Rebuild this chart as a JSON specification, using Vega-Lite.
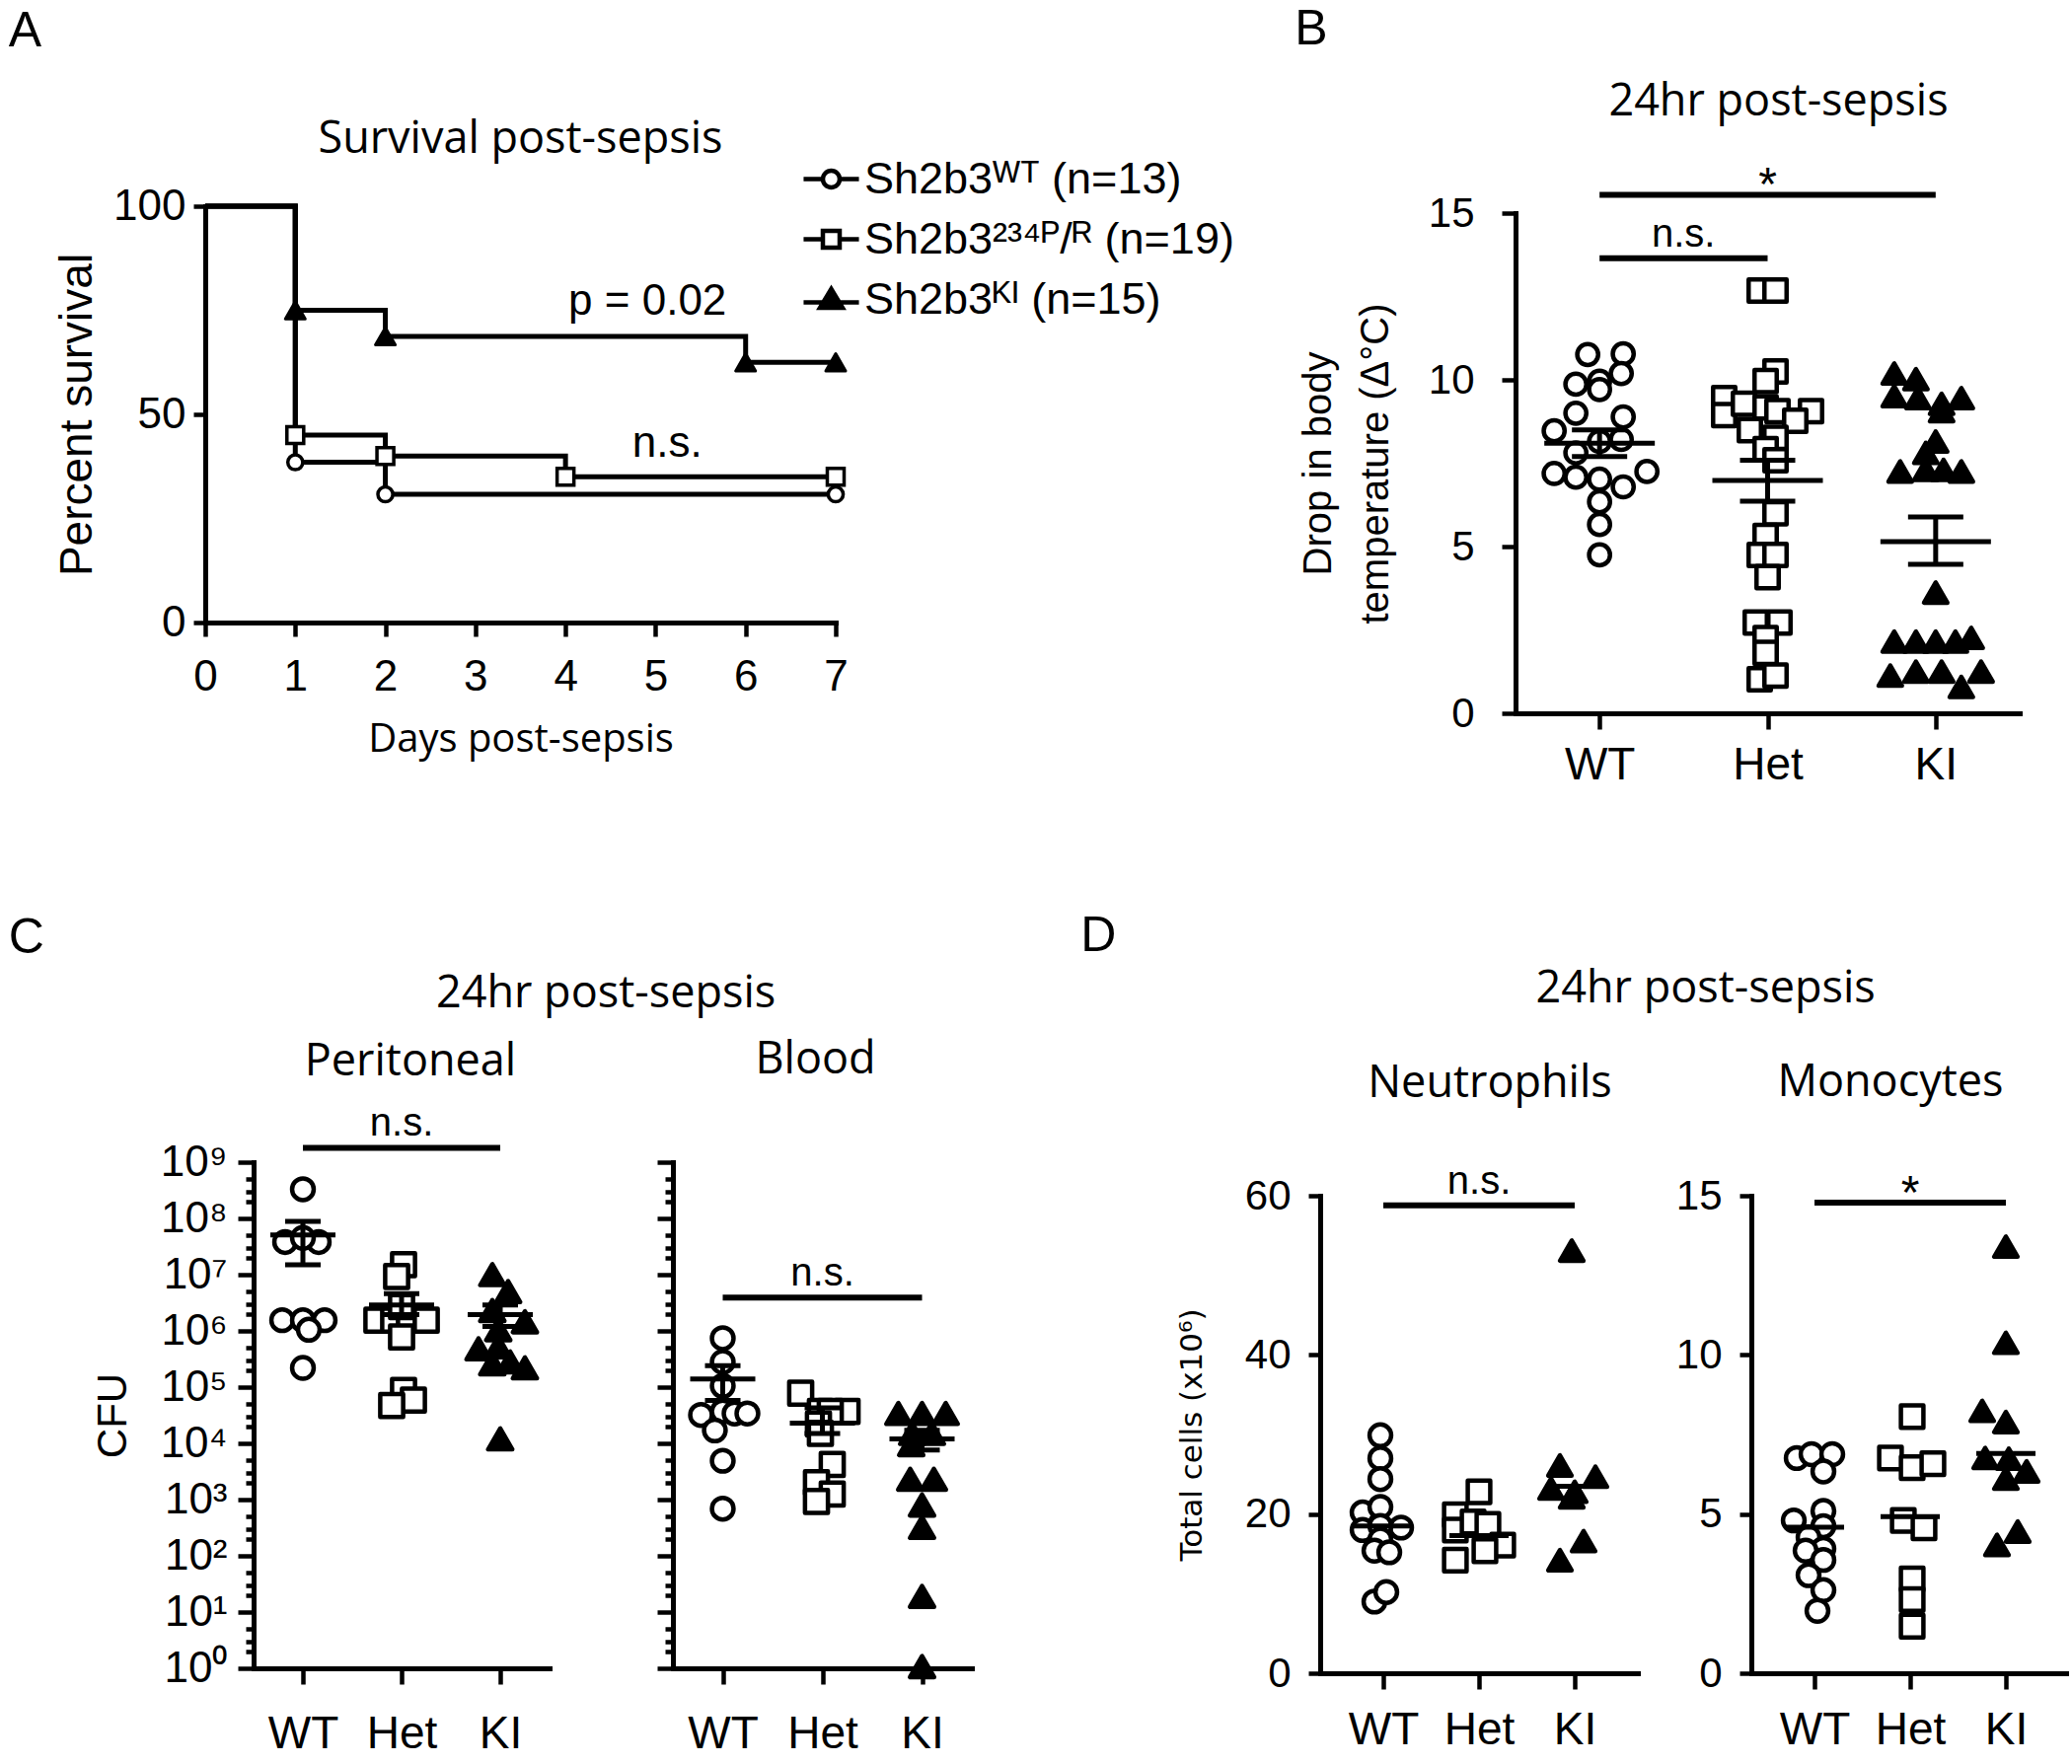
{
  "$schema": "https://vega.github.io/schema/vega-lite/v6.json",
  "padding": {"left": 8, "top": 4, "right": 0, "bottom": 0},
  "background": "white",
  "datasets": {
    "surv": [
      {"g": "WT", "day": 0, "pct": 100}, {"g": "WT", "day": 1, "pct": 38.5}, {"g": "WT", "day": 2, "pct": 30.8}, {"g": "WT", "day": 7, "pct": 30.8},
      {"g": "Het", "day": 0, "pct": 100}, {"g": "Het", "day": 1, "pct": 45}, {"g": "Het", "day": 2, "pct": 40}, {"g": "Het", "day": 4, "pct": 35}, {"g": "Het", "day": 7, "pct": 35},
      {"g": "KI", "day": 0, "pct": 100}, {"g": "KI", "day": 1, "pct": 75}, {"g": "KI", "day": 2, "pct": 68.75}, {"g": "KI", "day": 6, "pct": 62.5}, {"g": "KI", "day": 7, "pct": 62.5}
    ],
    "survNote": [
      {"day": 4.91, "pct": 74, "t": "p = 0.02"},
      {"day": 5.13, "pct": 39.7, "t": "n.s."}
    ],
    "pts": [
      {"p": "B", "g": "WT", "c": -0.6, "v": 10.76}, {"p": "B", "g": "WT", "c": 1.2, "v": 10.78}, {"p": "B", "g": "WT", "c": 1.1, "v": 10.19}, {"p": "B", "g": "WT", "c": -1.2, "v": 9.87}, {"p": "B", "g": "WT", "c": 0, "v": 9.96}, {"p": "B", "g": "WT", "c": 0, "v": 9.71}, {"p": "B", "g": "WT", "c": -1.2, "v": 9.0}, {"p": "B", "g": "WT", "c": 1.2, "v": 8.89}, {"p": "B", "g": "WT", "c": -2.3, "v": 8.47}, {"p": "B", "g": "WT", "c": 0, "v": 8.15}, {"p": "B", "g": "WT", "c": 1.1, "v": 8.21}, {"p": "B", "g": "WT", "c": -1.2, "v": 7.81}, {"p": "B", "g": "WT", "c": -2.3, "v": 7.19}, {"p": "B", "g": "WT", "c": -1.2, "v": 7.08}, {"p": "B", "g": "WT", "c": 0, "v": 7.02}, {"p": "B", "g": "WT", "c": 2.4, "v": 7.25}, {"p": "B", "g": "WT", "c": 1.2, "v": 6.79}, {"p": "B", "g": "WT", "c": 0, "v": 6.34}, {"p": "B", "g": "WT", "c": 0, "v": 5.66}, {"p": "B", "g": "WT", "c": 0, "v": 4.75},
      {"p": "B", "g": "Het", "c": -0.4, "v": 12.68}, {"p": "B", "g": "Het", "c": 0.4, "v": 12.68}, {"p": "B", "g": "Het", "c": 0.4, "v": 10.25}, {"p": "B", "g": "Het", "c": -0.1, "v": 9.96}, {"p": "B", "g": "Het", "c": -2.2, "v": 9.45}, {"p": "B", "g": "Het", "c": -2.2, "v": 8.94}, {"p": "B", "g": "Het", "c": -1.2, "v": 9.28}, {"p": "B", "g": "Het", "c": -0.1, "v": 9.17}, {"p": "B", "g": "Het", "c": 0.5, "v": 9.06}, {"p": "B", "g": "Het", "c": 2.2, "v": 9.06}, {"p": "B", "g": "Het", "c": 1.4, "v": 8.77}, {"p": "B", "g": "Het", "c": -0.9, "v": 8.49}, {"p": "B", "g": "Het", "c": 0.4, "v": 8.26}, {"p": "B", "g": "Het", "c": -0.1, "v": 7.92}, {"p": "B", "g": "Het", "c": 0.4, "v": 7.59}, {"p": "B", "g": "Het", "c": 0.4, "v": 6.0}, {"p": "B", "g": "Het", "c": -0.1, "v": 5.32}, {"p": "B", "g": "Het", "c": -0.4, "v": 4.75}, {"p": "B", "g": "Het", "c": 0.4, "v": 4.75}, {"p": "B", "g": "Het", "c": 0, "v": 4.08}, {"p": "B", "g": "Het", "c": -0.6, "v": 2.72}, {"p": "B", "g": "Het", "c": 0.6, "v": 2.72}, {"p": "B", "g": "Het", "c": -0.1, "v": 2.26}, {"p": "B", "g": "Het", "c": -0.1, "v": 1.81}, {"p": "B", "g": "Het", "c": -0.4, "v": 1.02}, {"p": "B", "g": "Het", "c": 0.4, "v": 1.13},
      {"p": "B", "g": "KI", "c": -2.1, "v": 10.19}, {"p": "B", "g": "KI", "c": -1.0, "v": 10.02}, {"p": "B", "g": "KI", "c": -2.1, "v": 9.51}, {"p": "B", "g": "KI", "c": -0.9, "v": 9.45}, {"p": "B", "g": "KI", "c": 0.3, "v": 9.28}, {"p": "B", "g": "KI", "c": 1.3, "v": 9.45}, {"p": "B", "g": "KI", "c": 0.3, "v": 9.06}, {"p": "B", "g": "KI", "c": 0, "v": 8.15}, {"p": "B", "g": "KI", "c": -0.5, "v": 7.81}, {"p": "B", "g": "KI", "c": -1.8, "v": 7.25}, {"p": "B", "g": "KI", "c": -0.5, "v": 7.3}, {"p": "B", "g": "KI", "c": 0.4, "v": 7.3}, {"p": "B", "g": "KI", "c": 1.3, "v": 7.25}, {"p": "B", "g": "KI", "c": 0, "v": 3.62}, {"p": "B", "g": "KI", "c": -2.1, "v": 2.15}, {"p": "B", "g": "KI", "c": -1.0, "v": 2.15}, {"p": "B", "g": "KI", "c": 0, "v": 2.15}, {"p": "B", "g": "KI", "c": 1.0, "v": 2.15}, {"p": "B", "g": "KI", "c": 1.8, "v": 2.26}, {"p": "B", "g": "KI", "c": -2.3, "v": 1.13}, {"p": "B", "g": "KI", "c": -1.0, "v": 1.25}, {"p": "B", "g": "KI", "c": 0.3, "v": 1.25}, {"p": "B", "g": "KI", "c": 1.3, "v": 0.79}, {"p": "B", "g": "KI", "c": 2.3, "v": 1.25},

      {"p": "CP", "g": "WT", "c": 0, "v": 330000000}, {"p": "CP", "g": "WT", "c": -0.9, "v": 38000000}, {"p": "CP", "g": "WT", "c": 0.8, "v": 38000000}, {"p": "CP", "g": "WT", "c": 0, "v": 45000000}, {"p": "CP", "g": "WT", "c": -1.05, "v": 1550000}, {"p": "CP", "g": "WT", "c": 0, "v": 1550000}, {"p": "CP", "g": "WT", "c": 1.1, "v": 1550000}, {"p": "CP", "g": "WT", "c": 0.3, "v": 1050000}, {"p": "CP", "g": "WT", "c": 0, "v": 220000},
      {"p": "CP", "g": "Het", "c": 0.1, "v": 15000000}, {"p": "CP", "g": "Het", "c": -0.25, "v": 9300000}, {"p": "CP", "g": "Het", "c": -1.25, "v": 1550000}, {"p": "CP", "g": "Het", "c": -0.4, "v": 1550000}, {"p": "CP", "g": "Het", "c": 0.4, "v": 1550000}, {"p": "CP", "g": "Het", "c": 1.25, "v": 1550000}, {"p": "CP", "g": "Het", "c": 0, "v": 2700000}, {"p": "CP", "g": "Het", "c": 0, "v": 780000}, {"p": "CP", "g": "Het", "c": 0.1, "v": 87000}, {"p": "CP", "g": "Het", "c": 0.6, "v": 59000}, {"p": "CP", "g": "Het", "c": -0.5, "v": 47000},
      {"p": "CP", "g": "KI", "c": -0.4, "v": 10000000}, {"p": "CP", "g": "KI", "c": 0.4, "v": 5000000}, {"p": "CP", "g": "KI", "c": -0.4, "v": 2300000}, {"p": "CP", "g": "KI", "c": 1.25, "v": 1450000}, {"p": "CP", "g": "KI", "c": -0.1, "v": 1050000}, {"p": "CP", "g": "KI", "c": -1.1, "v": 480000}, {"p": "CP", "g": "KI", "c": -0.1, "v": 520000}, {"p": "CP", "g": "KI", "c": -0.4, "v": 260000}, {"p": "CP", "g": "KI", "c": 0.5, "v": 280000}, {"p": "CP", "g": "KI", "c": 1.25, "v": 220000}, {"p": "CP", "g": "KI", "c": 0, "v": 12000},

      {"p": "CB", "g": "WT", "c": 0, "v": 740000}, {"p": "CB", "g": "WT", "c": 0, "v": 280000}, {"p": "CB", "g": "WT", "c": 0, "v": 105000}, {"p": "CB", "g": "WT", "c": -1.1, "v": 32000}, {"p": "CB", "g": "WT", "c": 0, "v": 37000}, {"p": "CB", "g": "WT", "c": 0.6, "v": 34000}, {"p": "CB", "g": "WT", "c": 1.25, "v": 34000}, {"p": "CB", "g": "WT", "c": -0.4, "v": 17000}, {"p": "CB", "g": "WT", "c": 0, "v": 4900}, {"p": "CB", "g": "WT", "c": 0, "v": 690},
      {"p": "CB", "g": "Het", "c": -1.1, "v": 78000}, {"p": "CB", "g": "Het", "c": 1.25, "v": 37000}, {"p": "CB", "g": "Het", "c": -0.1, "v": 37000}, {"p": "CB", "g": "Het", "c": 0.4, "v": 37000}, {"p": "CB", "g": "Het", "c": -0.2, "v": 22000}, {"p": "CB", "g": "Het", "c": -0.1, "v": 15000}, {"p": "CB", "g": "Het", "c": 0.5, "v": 4200}, {"p": "CB", "g": "Het", "c": -0.3, "v": 2000}, {"p": "CB", "g": "Het", "c": 0.5, "v": 1260}, {"p": "CB", "g": "Het", "c": -0.3, "v": 930},
      {"p": "CB", "g": "KI", "c": -1.2, "v": 34000}, {"p": "CB", "g": "KI", "c": 0, "v": 34000}, {"p": "CB", "g": "KI", "c": 1.2, "v": 34000}, {"p": "CB", "g": "KI", "c": -0.5, "v": 15000}, {"p": "CB", "g": "KI", "c": 0.5, "v": 15000}, {"p": "CB", "g": "KI", "c": -0.55, "v": 9500}, {"p": "CB", "g": "KI", "c": -0.6, "v": 2300}, {"p": "CB", "g": "KI", "c": 0.6, "v": 2300}, {"p": "CB", "g": "KI", "c": 0, "v": 800}, {"p": "CB", "g": "KI", "c": 0, "v": 320}, {"p": "CB", "g": "KI", "c": 0, "v": 19}, {"p": "CB", "g": "KI", "c": 0, "v": 1.07},

      {"p": "N", "g": "WT", "c": -0.15, "v": 29.9}, {"p": "N", "g": "WT", "c": -0.15, "v": 27.0}, {"p": "N", "g": "WT", "c": -0.15, "v": 24.4}, {"p": "N", "g": "WT", "c": -1.05, "v": 20.2}, {"p": "N", "g": "WT", "c": -0.15, "v": 20.9}, {"p": "N", "g": "WT", "c": 0.9, "v": 18.3}, {"p": "N", "g": "WT", "c": -1.05, "v": 18.0}, {"p": "N", "g": "WT", "c": -0.15, "v": 18.5}, {"p": "N", "g": "WT", "c": -0.15, "v": 16.8}, {"p": "N", "g": "WT", "c": -0.45, "v": 15.4}, {"p": "N", "g": "WT", "c": 0.3, "v": 15.2}, {"p": "N", "g": "WT", "c": -0.45, "v": 9.0}, {"p": "N", "g": "WT", "c": 0.15, "v": 10.2},
      {"p": "N", "g": "Het", "c": 0, "v": 22.8}, {"p": "N", "g": "Het", "c": -1.2, "v": 19.9}, {"p": "N", "g": "Het", "c": -1.2, "v": 18.0}, {"p": "N", "g": "Het", "c": -0.3, "v": 19.0}, {"p": "N", "g": "Het", "c": 0.45, "v": 18.7}, {"p": "N", "g": "Het", "c": 1.2, "v": 16.1}, {"p": "N", "g": "Het", "c": -1.2, "v": 14.2}, {"p": "N", "g": "Het", "c": 0.3, "v": 15.4},
      {"p": "N", "g": "KI", "c": -0.15, "v": 53.1}, {"p": "N", "g": "KI", "c": -0.75, "v": 26.1}, {"p": "N", "g": "KI", "c": 1.05, "v": 24.7}, {"p": "N", "g": "KI", "c": -1.2, "v": 23.2}, {"p": "N", "g": "KI", "c": 0, "v": 22.8}, {"p": "N", "g": "KI", "c": -0.15, "v": 22.1}, {"p": "N", "g": "KI", "c": 0.45, "v": 16.6}, {"p": "N", "g": "KI", "c": -0.75, "v": 14.2},

      {"p": "M", "g": "WT", "c": -0.9, "v": 6.76}, {"p": "M", "g": "WT", "c": -0.15, "v": 6.88}, {"p": "M", "g": "WT", "c": 0.9, "v": 6.88}, {"p": "M", "g": "WT", "c": 0.45, "v": 6.34}, {"p": "M", "g": "WT", "c": -1.05, "v": 4.8}, {"p": "M", "g": "WT", "c": 0.45, "v": 5.1}, {"p": "M", "g": "WT", "c": 0.45, "v": 4.62}, {"p": "M", "g": "WT", "c": -0.3, "v": 4.27}, {"p": "M", "g": "WT", "c": 0.45, "v": 3.91}, {"p": "M", "g": "WT", "c": -0.45, "v": 3.85}, {"p": "M", "g": "WT", "c": 0.45, "v": 3.56}, {"p": "M", "g": "WT", "c": -0.3, "v": 3.08}, {"p": "M", "g": "WT", "c": 0.45, "v": 2.61}, {"p": "M", "g": "WT", "c": 0.15, "v": 1.96},
      {"p": "M", "g": "Het", "c": 0.1, "v": 8.06}, {"p": "M", "g": "Het", "c": -1.0, "v": 6.76}, {"p": "M", "g": "Het", "c": 0.1, "v": 6.46}, {"p": "M", "g": "Het", "c": 1.15, "v": 6.58}, {"p": "M", "g": "Het", "c": -0.35, "v": 4.8}, {"p": "M", "g": "Het", "c": 0.7, "v": 4.57}, {"p": "M", "g": "Het", "c": 0.1, "v": 2.96}, {"p": "M", "g": "Het", "c": 0.1, "v": 2.31}, {"p": "M", "g": "Het", "c": 0.1, "v": 1.48},
      {"p": "M", "g": "KI", "c": 0, "v": 13.4}, {"p": "M", "g": "KI", "c": 0, "v": 10.38}, {"p": "M", "g": "KI", "c": -1.2, "v": 8.24}, {"p": "M", "g": "KI", "c": 0, "v": 7.89}, {"p": "M", "g": "KI", "c": -1.05, "v": 6.76}, {"p": "M", "g": "KI", "c": 0.15, "v": 6.74}, {"p": "M", "g": "KI", "c": 1.05, "v": 6.34}, {"p": "M", "g": "KI", "c": 0, "v": 6.11}, {"p": "M", "g": "KI", "c": 0.6, "v": 4.45}, {"p": "M", "g": "KI", "c": -0.45, "v": 4.03}
    ],
    "stats": [
      {"p": "B", "g": "WT", "m": 8.1, "lo": 7.7, "hi": 8.5},
      {"p": "B", "g": "Het", "m": 6.98, "lo": 6.36, "hi": 7.59},
      {"p": "B", "g": "KI", "m": 5.15, "lo": 4.47, "hi": 5.89},
      {"p": "CP", "g": "WT", "m": 51000000, "lo": 15000000, "hi": 89000000},
      {"p": "CP", "g": "Het", "m": 2900000, "lo": 1950000, "hi": 4600000},
      {"p": "CP", "g": "KI", "m": 1950000, "lo": 1200000, "hi": 2900000},
      {"p": "CB", "g": "WT", "m": 140000, "lo": 58000, "hi": 240000},
      {"p": "CB", "g": "Het", "m": 23000, "lo": 15000, "hi": 43000},
      {"p": "CB", "g": "KI", "m": 12000, "lo": 7600, "hi": 17000},
      {"p": "N", "g": "WT", "m": 18.5},
      {"p": "N", "g": "Het", "m": 17.3},
      {"p": "N", "g": "KI", "m": 23.5},
      {"p": "M", "g": "WT", "m": 4.59},
      {"p": "M", "g": "Het", "m": 4.92},
      {"p": "M", "g": "KI", "m": 6.9}
    ],
    "sig": [
      {"p": "B", "from": "WT", "to": "KI", "mid": "Het", "y": 15.55, "t": "*"},
      {"p": "B", "from": "WT", "to": "Het", "mid": "WT", "y": 13.65, "t": "n.s."},
      {"p": "CP", "from": "WT", "to": "KI", "mid": "Het", "y": 1800000000, "t": "n.s."},
      {"p": "CB", "from": "WT", "to": "KI", "mid": "Het", "y": 3900000, "t": "n.s."},
      {"p": "N", "from": "WT", "to": "KI", "mid": "Het", "y": 58.8, "t": "n.s."},
      {"p": "M", "from": "WT", "to": "KI", "mid": "Het", "y": 14.78, "t": "*"}
    ]
  },
  "spacing": 125,
  "resolve": {"scale": {"shape": "independent", "size": "independent", "fill": "independent", "color": "independent"}},
  "vconcat": [
    {
      "spacing": 61,
      "resolve": {"scale": {"shape": "independent", "size": "independent", "fill": "independent", "color": "independent"}},
      "hconcat": [
        {
          "title": {"text": "A", "anchor": "start", "font": "Liberation Sans", "fontSize": 50, "offset": 20, "dx": -40},
          "spacing": 0,
          "resolve": {"scale": {"shape": "independent", "size": "independent", "fill": "independent", "color": "independent"}},
          "vconcat": [
            {"width": 1, "height": 42, "data": {"values": [{"s": 0}]}, "mark": {"type": "point", "opacity": 0}},
            {
              "spacing": 0,
              "resolve": {"scale": {"shape": "independent", "size": "independent", "fill": "independent", "color": "independent"}},
              "hconcat": [
                {"width": 1, "height": 1, "data": {"values": [{"s": 0}]}, "mark": {"type": "point", "opacity": 0}},
                {
                  "width": 639, "height": 422,
                  "title": {"text": "Survival post-sepsis", "frame": "group", "anchor": "middle", "fontSize": 45, "offset": -5},
                  "data": {"name": "surv"},
                  "layer": [
                    {
                      "mark": {"type": "line", "interpolate": "step-after", "stroke": "black", "strokeWidth": 5},
                      "encoding": {
                        "x": {"field": "day", "type": "quantitative", "scale": {"domain": [0, 7], "nice": false},
                          "axis": {"values": [0, 1, 2, 3, 4, 5, 6, 7], "format": "d", "title": "Days post-sepsis", "titleFont": "Open Sans", "titleFontSize": 40, "titlePadding": 21, "labelPadding": 19, "labelFontSize": 44, "tickSize": 14}},
                        "y": {"field": "pct", "type": "quantitative", "scale": {"domain": [0, 100], "nice": false},
                          "axis": {"values": [0, 50, 100], "title": "Percent survival", "titleFontSize": 46, "titlePadding": 12, "labelFontSize": 44, "tickSize": 12}},
                        "detail": {"field": "g", "type": "nominal"}
                      }
                    },
                    {
                      "transform": [{"filter": "datum.day > 0 && datum.g == 'WT'"}],
                      "mark": {"type": "point", "shape": "circle", "filled": true, "fill": "white", "opacity": 1, "stroke": "black", "strokeWidth": 3.5, "size": 230},
                      "encoding": {"x": {"field": "day", "type": "quantitative"}, "y": {"field": "pct", "type": "quantitative"}}
                    },
                    {
                      "transform": [{"filter": "datum.day > 0 && datum.g == 'Het'"}],
                      "mark": {"type": "point", "shape": "square", "filled": true, "fill": "white", "opacity": 1, "stroke": "black", "strokeWidth": 3.5, "size": 290},
                      "encoding": {"x": {"field": "day", "type": "quantitative"}, "y": {"field": "pct", "type": "quantitative"}}
                    },
                    {
                      "transform": [{"filter": "datum.day > 0 && datum.g == 'KI'"}],
                      "mark": {"type": "point", "shape": "triangle-up", "filled": true, "fill": "black", "opacity": 1, "stroke": "black", "strokeWidth": 3, "strokeJoin": "round", "size": 400},
                      "encoding": {"x": {"field": "day", "type": "quantitative"}, "y": {"field": "pct", "type": "quantitative"}}
                    },
                    {
                      "transform": [{"filter": "datum.day < 0"}],
                      "mark": {"type": "point", "filled": true, "opacity": 1, "stroke": "black", "strokeWidth": 4.5},
                      "encoding": {
                        "x": {"field": "day", "type": "quantitative"},
                        "y": {"field": "pct", "type": "quantitative"},
                        "shape": {"field": "g", "type": "nominal",
                          "scale": {"domain": ["WT", "Het", "KI"], "range": ["M-3.3,0H-1M1,0H3.3M-1,0A1,1,0,1,0,1,0A1,1,0,1,0,-1,0Z", "M-3.3,0H-1M1,0H3.3M-1,-1H1V1H-1Z", "M-3.3,0.35H3.3M0,-1.25L1.35,1H-1.35Z"]},
                          "legend": {"title": null, "orient": "none", "legendX": 612, "legendY": -50, "padding": 0, "labelLimit": 0, "labelExpr": "datum.label == 'WT' ? 'Sh2b3ᵂᵀ (n=13)' : datum.label == 'Het' ? 'Sh2b3²³⁴ᴾ/ᴿ (n=19)' : 'Sh2b3ᴷᴵ (n=15)'", "labelFont": "Liberation Sans", "labelFontSize": 45, "labelColor": "black", "symbolSize": 289, "symbolStrokeWidth": 4.5, "symbolStrokeColor": "black", "symbolOpacity": 1, "labelOffset": 11, "rowPadding": 15,
                            "encode": {"symbols": {"update": {"stroke": {"value": "black"}, "strokeWidth": {"value": 4.5}, "opacity": {"value": 1}}}}}},
                        "color": {"field": "g", "type": "nominal",
                          "scale": {"domain": ["WT", "Het", "KI"], "range": ["white", "white", "black"]},
                          "legend": {"title": null, "orient": "none", "legendX": 612, "legendY": -50, "padding": 0, "labelLimit": 0, "labelExpr": "datum.label == 'WT' ? 'Sh2b3ᵂᵀ (n=13)' : datum.label == 'Het' ? 'Sh2b3²³⁴ᴾ/ᴿ (n=19)' : 'Sh2b3ᴷᴵ (n=15)'", "labelFont": "Liberation Sans", "labelFontSize": 45, "labelColor": "black", "symbolSize": 289, "symbolStrokeWidth": 4.5, "symbolStrokeColor": "black", "symbolOpacity": 1, "labelOffset": 11, "rowPadding": 15,
                            "encode": {"symbols": {"update": {"stroke": {"value": "black"}, "strokeWidth": {"value": 4.5}, "opacity": {"value": 1}}}}}}
                      }
                    },
                    {
                      "data": {"name": "survNote"},
                      "mark": {"type": "text", "font": "Liberation Sans", "fontSize": 44, "baseline": "alphabetic", "color": "black"},
                      "encoding": {
                        "x": {"field": "day", "type": "quantitative"},
                        "y": {"field": "pct", "type": "quantitative"},
                        "text": {"field": "t"}
                      }
                    }
                  ]
                }
              ]
            }
          ]
        },
        {
          "title": {"text": "B", "anchor": "start", "font": "Liberation Sans", "fontSize": 50, "offset": 20, "dx": -4},
          "spacing": 0,
          "resolve": {"scale": {"shape": "independent", "size": "independent", "fill": "independent", "color": "independent"}},
          "vconcat": [
            {"width": 1, "height": 1, "data": {"values": [{"s": 0}]}, "mark": {"type": "point", "opacity": 0}},
            {
              "width": 511, "height": 507,
              "title": {"text": "24hr post-sepsis", "frame": "group", "anchor": "middle", "fontSize": 45, "offset": 39, "dx": 11},
              "layer": [
                {
                  "data": {"name": "pts"}, "transform": [{"filter": "datum.p == 'B'"}],
                  "mark": {"type": "point", "filled": true, "opacity": 1, "stroke": "black", "strokeWidth": 4.5, "strokeJoin": "round"},
                  "encoding": {
                    "x": {"field": "g", "type": "nominal", "scale": {"type": "point", "domain": ["WT", "Het", "KI"], "padding": 0.5},
                      "axis": {"title": null, "labelAngle": 0, "labelFontSize": 46, "labelPadding": 14, "tickSize": 16}},
                    "xOffset": {"field": "c", "type": "quantitative", "scale": {"domain": [-1, 1], "range": [-20, 20], "nice": false, "zero": false}},
                    "y": {"field": "v", "type": "quantitative", "scale": {"domain": [0, 15], "nice": false},
                      "axis": {"values": [0, 5, 10, 15], "title": ["Drop in body", "temperature (Δ°C)"], "titleFontSize": 40, "titleLineHeight": 58, "titlePadding": 33, "labelFontSize": 42, "labelPadding": 28, "tickSize": 14}},
                    "shape": {"field": "g", "type": "nominal", "scale": {"domain": ["WT", "Het", "KI"], "range": ["circle", "square", "triangle-up"]}, "legend": null},
                    "fill": {"field": "g", "type": "nominal", "scale": {"domain": ["WT", "Het", "KI"], "range": ["white", "white", "black"]}, "legend": null},
                    "size": {"field": "g", "type": "ordinal", "scale": {"domain": ["WT", "Het", "KI"], "range": [450, 560, 700]}, "legend": null}
                  }
                },
                {
                  "data": {"name": "stats"}, "transform": [{"filter": "datum.p == 'B'"}],
                  "mark": {"type": "tick", "color": "black", "opacity": 1, "size": 112, "thickness": 5},
                  "encoding": {"x": {"field": "g", "type": "nominal"}, "y": {"field": "m", "type": "quantitative"}}
                },
                {
                  "data": {"name": "stats"}, "transform": [{"filter": "datum.p == 'B'"}],
                  "mark": {"type": "rule", "color": "black", "strokeWidth": 5},
                  "encoding": {"x": {"field": "g", "type": "nominal"}, "y": {"field": "lo", "type": "quantitative"}, "y2": {"field": "hi"}}
                },
                {
                  "data": {"name": "stats"}, "transform": [{"filter": "datum.p == 'B'"}],
                  "mark": {"type": "tick", "color": "black", "opacity": 1, "size": 56, "thickness": 5},
                  "encoding": {"x": {"field": "g", "type": "nominal"}, "y": {"field": "lo", "type": "quantitative"}}
                },
                {
                  "data": {"name": "stats"}, "transform": [{"filter": "datum.p == 'B'"}],
                  "mark": {"type": "tick", "color": "black", "opacity": 1, "size": 56, "thickness": 5},
                  "encoding": {"x": {"field": "g", "type": "nominal"}, "y": {"field": "hi", "type": "quantitative"}}
                },
                {
                  "data": {"name": "sig"}, "transform": [{"filter": "datum.p == 'B'"}],
                  "mark": {"type": "rule", "color": "black", "strokeWidth": 6},
                  "encoding": {"x": {"field": "from", "type": "nominal"}, "x2": {"field": "to"}, "y": {"field": "y", "type": "quantitative"}}
                },
                {
                  "data": {"name": "sig"}, "transform": [{"filter": "datum.p == 'B' && datum.t == 'n.s.'"}],
                  "mark": {"type": "text", "font": "Liberation Sans", "fontSize": 40, "baseline": "alphabetic", "dy": -12, "dx": 85, "color": "black"},
                  "encoding": {"x": {"field": "mid", "type": "nominal"}, "y": {"field": "y", "type": "quantitative"}, "text": {"field": "t"}}
                },
                {
                  "data": {"name": "sig"}, "transform": [{"filter": "datum.p == 'B' && datum.t == '*'"}],
                  "mark": {"type": "text", "font": "Liberation Sans", "fontSize": 48, "baseline": "alphabetic", "dy": 6, "color": "black"},
                  "encoding": {"x": {"field": "mid", "type": "nominal"}, "y": {"field": "y", "type": "quantitative"}, "text": {"field": "t"}}
                }
              ]
            }
          ]
        }
      ]
    },
    {
      "spacing": 110,
      "resolve": {"scale": {"shape": "independent", "size": "independent", "fill": "independent", "color": "independent"}},
      "hconcat": [
        {
          "title": {"text": "C", "anchor": "start", "font": "Liberation Sans", "fontSize": 50, "offset": 0, "dx": -40},
          "spacing": 0,
          "resolve": {"scale": {"shape": "independent", "size": "independent", "fill": "independent", "color": "independent"}},
          "vconcat": [
            {"width": 1, "height": 8, "data": {"values": [{"s": 0}]}, "mark": {"type": "point", "opacity": 0}},
            {
              "spacing": 0,
              "resolve": {"scale": {"shape": "independent", "size": "independent", "fill": "independent", "color": "independent"}},
              "hconcat": [
                {"width": 42, "height": 1, "data": {"values": [{"s": 0}]}, "mark": {"type": "point", "opacity": 0}},
                {
                  "title": {"text": "24hr post-sepsis", "anchor": "middle", "fontSize": 45, "offset": 22, "dx": 75},
                  "bounds": "flush",
                  "spacing": 125,
                  "resolve": {"scale": {"shape": "independent", "size": "independent", "fill": "independent", "color": "independent"}},
                  "hconcat": [
                    {
                      "width": 300, "height": 513,
                      "title": {"text": "Peritoneal", "frame": "group", "anchor": "middle", "fontSize": 45, "offset": 20, "dx": 9},
                      "layer": [
                        {
                          "data": {"name": "pts"}, "transform": [{"filter": "datum.p == 'CP'"}],
                          "mark": {"type": "point", "filled": true, "opacity": 1, "stroke": "black", "strokeWidth": 4.5, "strokeJoin": "round"},
                          "encoding": {
                            "x": {"field": "g", "type": "nominal", "scale": {"type": "point", "domain": ["WT", "Het", "KI"], "padding": 0.5},
                              "axis": {"title": null, "labelAngle": 0, "labelFontSize": 46, "labelPadding": 28, "tickSize": 16}},
                            "xOffset": {"field": "c", "type": "quantitative", "scale": {"domain": [-1, 1], "range": [-20, 20], "nice": false, "zero": false}},
                            "y": {"field": "v", "type": "quantitative", "scale": {"type": "log", "domain": [1, 1000000000], "nice": false},
                              "axis": {"values": [1, 2, 3, 5, 10, 20, 30, 50, 100, 200, 300, 500, 1000, 2000, 3000, 5000, 10000, 20000, 30000, 50000, 100000, 200000, 300000, 500000, 1000000, 2000000, 3000000, 5000000, 10000000, 20000000, 30000000, 50000000, 100000000, 200000000, 300000000, 500000000, 1000000000],
                                "labelExpr": "abs(log(datum.value)/LN10 - round(log(datum.value)/LN10)) < 0.001 ? '10' + ['⁰','¹','²','³','⁴','⁵','⁶','⁷','⁸','⁹'][round(log(datum.value)/LN10)] : ''",
                                "tickSize": {"condition": {"test": "abs(log(datum.value)/LN10 - round(log(datum.value)/LN10)) < 0.001", "value": 16}, "value": 8},
                                "title": "CFU", "titleFontSize": 42, "titlePadding": 26, "labelFontSize": 44, "labelPadding": 11}},
                            "shape": {"field": "g", "type": "nominal", "scale": {"domain": ["WT", "Het", "KI"], "range": ["circle", "square", "triangle-up"]}, "legend": null},
                            "fill": {"field": "g", "type": "nominal", "scale": {"domain": ["WT", "Het", "KI"], "range": ["white", "white", "black"]}, "legend": null},
                            "size": {"field": "g", "type": "ordinal", "scale": {"domain": ["WT", "Het", "KI"], "range": [480, 600, 720]}, "legend": null}
                          }
                        },
                        {
                          "data": {"name": "stats"}, "transform": [{"filter": "datum.p == 'CP'"}],
                          "mark": {"type": "tick", "color": "black", "opacity": 1, "size": 66, "thickness": 5},
                          "encoding": {"x": {"field": "g", "type": "nominal"}, "y": {"field": "m", "type": "quantitative"}}
                        },
                        {
                          "data": {"name": "stats"}, "transform": [{"filter": "datum.p == 'CP'"}],
                          "mark": {"type": "rule", "color": "black", "strokeWidth": 5},
                          "encoding": {"x": {"field": "g", "type": "nominal"}, "y": {"field": "lo", "type": "quantitative"}, "y2": {"field": "hi"}}
                        },
                        {
                          "data": {"name": "stats"}, "transform": [{"filter": "datum.p == 'CP'"}],
                          "mark": {"type": "tick", "color": "black", "opacity": 1, "size": 36, "thickness": 5},
                          "encoding": {"x": {"field": "g", "type": "nominal"}, "y": {"field": "lo", "type": "quantitative"}}
                        },
                        {
                          "data": {"name": "stats"}, "transform": [{"filter": "datum.p == 'CP'"}],
                          "mark": {"type": "tick", "color": "black", "opacity": 1, "size": 36, "thickness": 5},
                          "encoding": {"x": {"field": "g", "type": "nominal"}, "y": {"field": "hi", "type": "quantitative"}}
                        },
                        {
                          "data": {"name": "sig"}, "transform": [{"filter": "datum.p == 'CP'"}],
                          "mark": {"type": "rule", "color": "black", "strokeWidth": 6},
                          "encoding": {"x": {"field": "from", "type": "nominal"}, "x2": {"field": "to"}, "y": {"field": "y", "type": "quantitative"}}
                        },
                        {
                          "data": {"name": "sig"}, "transform": [{"filter": "datum.p == 'CP'"}],
                          "mark": {"type": "text", "font": "Liberation Sans", "fontSize": 40, "baseline": "alphabetic", "dy": -12, "color": "black"},
                          "encoding": {"x": {"field": "mid", "type": "nominal"}, "y": {"field": "y", "type": "quantitative"}, "text": {"field": "t"}}
                        }
                      ]
                    },
                    {
                      "width": 303, "height": 513,
                      "title": {"text": "Blood", "frame": "group", "anchor": "middle", "fontSize": 45, "offset": 79, "dx": -7},
                      "layer": [
                        {
                          "data": {"name": "pts"}, "transform": [{"filter": "datum.p == 'CB'"}],
                          "mark": {"type": "point", "filled": true, "opacity": 1, "stroke": "black", "strokeWidth": 4.5, "strokeJoin": "round"},
                          "encoding": {
                            "x": {"field": "g", "type": "nominal", "scale": {"type": "point", "domain": ["WT", "Het", "KI"], "padding": 0.5},
                              "axis": {"title": null, "labelAngle": 0, "labelFontSize": 46, "labelPadding": 28, "tickSize": 16}},
                            "xOffset": {"field": "c", "type": "quantitative", "scale": {"domain": [-1, 1], "range": [-20, 20], "nice": false, "zero": false}},
                            "y": {"field": "v", "type": "quantitative", "scale": {"type": "log", "domain": [1, 1000000000], "nice": false},
                              "axis": {"values": [1, 2, 3, 5, 10, 20, 30, 50, 100, 200, 300, 500, 1000, 2000, 3000, 5000, 10000, 20000, 30000, 50000, 100000, 200000, 300000, 500000, 1000000, 2000000, 3000000, 5000000, 10000000, 20000000, 30000000, 50000000, 100000000, 200000000, 300000000, 500000000, 1000000000],
                                "labels": false,
                                "tickSize": {"condition": {"test": "abs(log(datum.value)/LN10 - round(log(datum.value)/LN10)) < 0.001", "value": 16}, "value": 8},
                                "title": null}},
                            "shape": {"field": "g", "type": "nominal", "scale": {"domain": ["WT", "Het", "KI"], "range": ["circle", "square", "triangle-up"]}, "legend": null},
                            "fill": {"field": "g", "type": "nominal", "scale": {"domain": ["WT", "Het", "KI"], "range": ["white", "white", "black"]}, "legend": null},
                            "size": {"field": "g", "type": "ordinal", "scale": {"domain": ["WT", "Het", "KI"], "range": [480, 600, 720]}, "legend": null}
                          }
                        },
                        {
                          "data": {"name": "stats"}, "transform": [{"filter": "datum.p == 'CB'"}],
                          "mark": {"type": "tick", "color": "black", "opacity": 1, "size": 66, "thickness": 5},
                          "encoding": {"x": {"field": "g", "type": "nominal"}, "y": {"field": "m", "type": "quantitative"}}
                        },
                        {
                          "data": {"name": "stats"}, "transform": [{"filter": "datum.p == 'CB'"}],
                          "mark": {"type": "rule", "color": "black", "strokeWidth": 5},
                          "encoding": {"x": {"field": "g", "type": "nominal"}, "y": {"field": "lo", "type": "quantitative"}, "y2": {"field": "hi"}}
                        },
                        {
                          "data": {"name": "stats"}, "transform": [{"filter": "datum.p == 'CB'"}],
                          "mark": {"type": "tick", "color": "black", "opacity": 1, "size": 36, "thickness": 5},
                          "encoding": {"x": {"field": "g", "type": "nominal"}, "y": {"field": "lo", "type": "quantitative"}}
                        },
                        {
                          "data": {"name": "stats"}, "transform": [{"filter": "datum.p == 'CB'"}],
                          "mark": {"type": "tick", "color": "black", "opacity": 1, "size": 36, "thickness": 5},
                          "encoding": {"x": {"field": "g", "type": "nominal"}, "y": {"field": "hi", "type": "quantitative"}}
                        },
                        {
                          "data": {"name": "sig"}, "transform": [{"filter": "datum.p == 'CB'"}],
                          "mark": {"type": "rule", "color": "black", "strokeWidth": 6},
                          "encoding": {"x": {"field": "from", "type": "nominal"}, "x2": {"field": "to"}, "y": {"field": "y", "type": "quantitative"}}
                        },
                        {
                          "data": {"name": "sig"}, "transform": [{"filter": "datum.p == 'CB'"}],
                          "mark": {"type": "text", "font": "Liberation Sans", "fontSize": 40, "baseline": "alphabetic", "dy": -12, "color": "black"},
                          "encoding": {"x": {"field": "mid", "type": "nominal"}, "y": {"field": "y", "type": "quantitative"}, "text": {"field": "t"}}
                        }
                      ]
                    }
                  ]
                }
              ]
            }
          ]
        },
        {
          "title": {"text": "D", "anchor": "start", "font": "Liberation Sans", "fontSize": 50, "offset": 0, "dx": -97},
          "spacing": 0,
          "resolve": {"scale": {"shape": "independent", "size": "independent", "fill": "independent", "color": "independent"}},
          "vconcat": [
            {"width": 1, "height": 1, "data": {"values": [{"s": 0}]}, "mark": {"type": "point", "opacity": 0}},
            {
              "title": {"text": "24hr post-sepsis", "anchor": "middle", "fontSize": 45, "offset": 50, "dx": 84},
              "bounds": "flush",
              "spacing": 115,
              "resolve": {"scale": {"shape": "independent", "size": "independent", "fill": "independent", "color": "independent"}},
              "hconcat": [
                {
                  "width": 322, "height": 484,
                  "title": {"text": "Neutrophils", "frame": "group", "anchor": "middle", "fontSize": 45, "offset": 57, "dx": 11},
                  "layer": [
                    {
                      "data": {"name": "pts"}, "transform": [{"filter": "datum.p == 'N'"}],
                      "mark": {"type": "point", "filled": true, "opacity": 1, "stroke": "black", "strokeWidth": 4.5, "strokeJoin": "round"},
                      "encoding": {
                        "x": {"field": "g", "type": "nominal", "scale": {"type": "point", "domain": ["WT", "Het", "KI"], "padding": 0.66},
                          "axis": {"title": null, "labelAngle": 0, "labelFontSize": 46, "labelPadding": 19, "tickSize": 16}},
                        "xOffset": {"field": "c", "type": "quantitative", "scale": {"domain": [-1, 1], "range": [-20, 20], "nice": false, "zero": false}},
                        "y": {"field": "v", "type": "quantitative", "scale": {"domain": [0, 60], "nice": false},
                          "axis": {"values": [0, 20, 40, 60], "title": "Total cells (x10⁶)", "titleFont": "DejaVu Sans", "titleFontSize": 31, "titlePadding": 37, "labelFontSize": 42, "labelPadding": 18, "tickSize": 12}},
                        "shape": {"field": "g", "type": "nominal", "scale": {"domain": ["WT", "Het", "KI"], "range": ["circle", "square", "triangle-up"]}, "legend": null},
                        "fill": {"field": "g", "type": "nominal", "scale": {"domain": ["WT", "Het", "KI"], "range": ["white", "white", "black"]}, "legend": null},
                        "size": {"field": "g", "type": "ordinal", "scale": {"domain": ["WT", "Het", "KI"], "range": [480, 560, 330]}, "legend": null}
                      }
                    },
                    {
                      "data": {"name": "stats"}, "transform": [{"filter": "datum.p == 'N'"}],
                      "mark": {"type": "tick", "color": "black", "opacity": 1, "size": 60, "thickness": 5},
                      "encoding": {"x": {"field": "g", "type": "nominal"}, "y": {"field": "m", "type": "quantitative"}}
                    },
                    {
                      "data": {"name": "sig"}, "transform": [{"filter": "datum.p == 'N'"}],
                      "mark": {"type": "rule", "color": "black", "strokeWidth": 6},
                      "encoding": {"x": {"field": "from", "type": "nominal"}, "x2": {"field": "to"}, "y": {"field": "y", "type": "quantitative"}}
                    },
                    {
                      "data": {"name": "sig"}, "transform": [{"filter": "datum.p == 'N'"}],
                      "mark": {"type": "text", "font": "Liberation Sans", "fontSize": 40, "baseline": "alphabetic", "dy": -12, "color": "black"},
                      "encoding": {"x": {"field": "mid", "type": "nominal"}, "y": {"field": "y", "type": "quantitative"}, "text": {"field": "t"}}
                    }
                  ]
                },
                {
                  "width": 322, "height": 484,
                  "title": {"text": "Monocytes", "frame": "group", "anchor": "middle", "fontSize": 45, "offset": 67, "dx": -20},
                  "layer": [
                    {
                      "data": {"name": "pts"}, "transform": [{"filter": "datum.p == 'M'"}],
                      "mark": {"type": "point", "filled": true, "opacity": 1, "stroke": "black", "strokeWidth": 4.5, "strokeJoin": "round"},
                      "encoding": {
                        "x": {"field": "g", "type": "nominal", "scale": {"type": "point", "domain": ["WT", "Het", "KI"], "padding": 0.66},
                          "axis": {"title": null, "labelAngle": 0, "labelFontSize": 46, "labelPadding": 19, "tickSize": 16}},
                        "xOffset": {"field": "c", "type": "quantitative", "scale": {"domain": [-1, 1], "range": [-20, 20], "nice": false, "zero": false}},
                        "y": {"field": "v", "type": "quantitative", "scale": {"domain": [0, 15], "nice": false},
                          "axis": {"values": [0, 5, 10, 15], "title": null, "labelFontSize": 42, "labelPadding": 18, "tickSize": 12}},
                        "shape": {"field": "g", "type": "nominal", "scale": {"domain": ["WT", "Het", "KI"], "range": ["circle", "square", "triangle-up"]}, "legend": null},
                        "fill": {"field": "g", "type": "nominal", "scale": {"domain": ["WT", "Het", "KI"], "range": ["white", "white", "black"]}, "legend": null},
                        "size": {"field": "g", "type": "ordinal", "scale": {"domain": ["WT", "Het", "KI"], "range": [480, 560, 330]}, "legend": null}
                      }
                    },
                    {
                      "data": {"name": "stats"}, "transform": [{"filter": "datum.p == 'M'"}],
                      "mark": {"type": "tick", "color": "black", "opacity": 1, "size": 60, "thickness": 5},
                      "encoding": {"x": {"field": "g", "type": "nominal"}, "y": {"field": "m", "type": "quantitative"}}
                    },
                    {
                      "data": {"name": "sig"}, "transform": [{"filter": "datum.p == 'M'"}],
                      "mark": {"type": "rule", "color": "black", "strokeWidth": 6},
                      "encoding": {"x": {"field": "from", "type": "nominal"}, "x2": {"field": "to"}, "y": {"field": "y", "type": "quantitative"}}
                    },
                    {
                      "data": {"name": "sig"}, "transform": [{"filter": "datum.p == 'M'"}],
                      "mark": {"type": "text", "font": "Liberation Sans", "fontSize": 48, "baseline": "alphabetic", "dy": 6, "color": "black"},
                      "encoding": {"x": {"field": "mid", "type": "nominal"}, "y": {"field": "y", "type": "quantitative"}, "text": {"field": "t"}}
                    }
                  ]
                }
              ]
            }
          ]
        }
      ]
    }
  ],
  "config": {
    "view": {"stroke": null},
    "font": "Liberation Sans",
    "axis": {
      "domainColor": "black", "domainWidth": 5, "domainCap": "square",
      "tickColor": "black", "tickWidth": 4.5, "tickSize": 14,
      "labelColor": "black", "labelFont": "Liberation Sans", "labelFontSize": 42, "labelPadding": 8, "labelOverlap": false, "labelFlush": false, "labelBound": false,
      "titleColor": "black", "titleFont": "Liberation Sans", "titleFontWeight": "normal", "titleFontSize": 42,
      "grid": false
    },
    "title": {"color": "black", "font": "Open Sans", "fontWeight": "normal", "fontSize": 45}
  }
}
